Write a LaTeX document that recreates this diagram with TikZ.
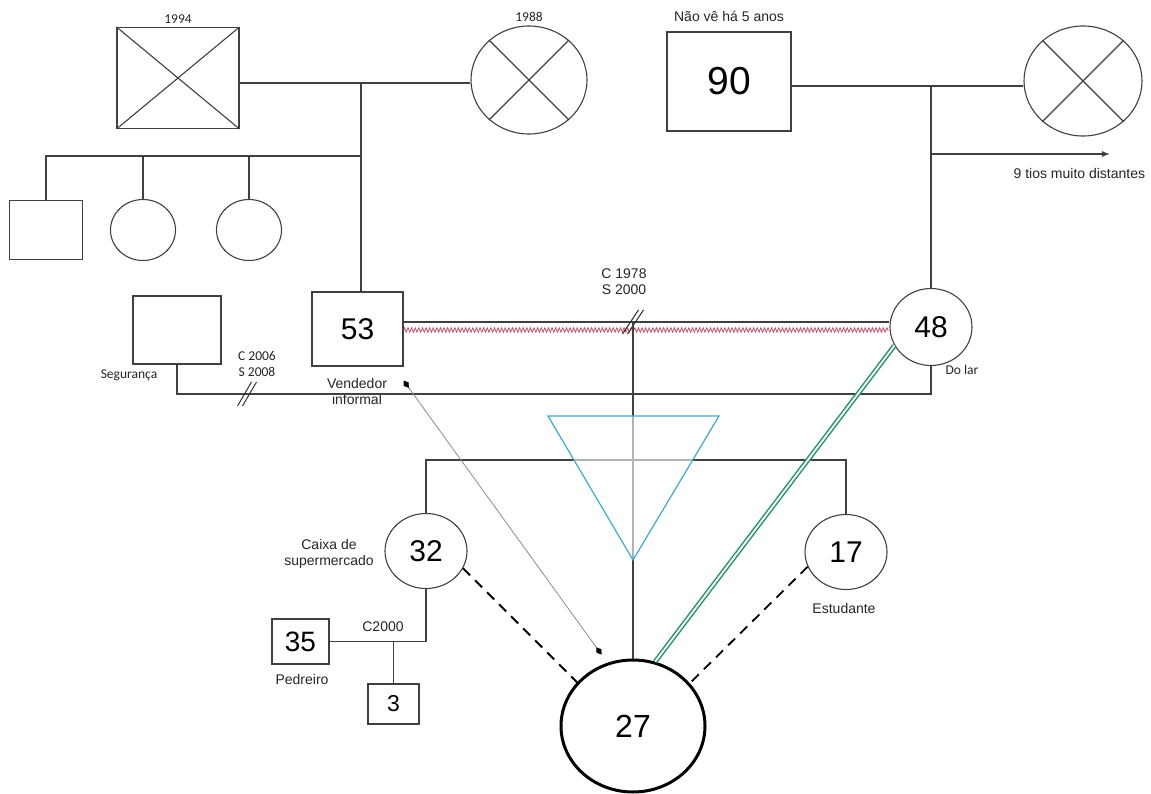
\documentclass[tikz,border=0pt]{standalone}
\usepackage{fontspec}
\setmainfont{Liberation Sans}
\newfontfamily\calib{Carlito}
\usetikzlibrary{arrows.meta,shapes.geometric,decorations.pathmorphing}
\definecolor{zig}{RGB}{200,80,105}
\definecolor{verde}{RGB}{35,150,100}
\definecolor{ciano}{RGB}{60,170,210}

\begin{document}
\begin{tikzpicture}[x=1pt, y=-1pt, line width=1.1pt, color=black!75,
  box/.style={draw, rectangle, inner sep=0pt},
  person/.style={draw, ellipse, inner sep=0pt, minimum width=82pt, minimum height=75pt},
  big/.style={font=\fontsize{30}{30}\selectfont, text=black},
  lbl/.style={font=\fontsize{14}{16}\selectfont, align=center, text=black!85},
  cal/.style={font=\calib\fontsize{13.5}{16}\selectfont, align=center, text=black!85},
  corte/.style={line width=1pt, black!80}]

\fill[white] (0,0) rectangle (1151,794);
\useasboundingbox (0,0) rectangle (1151,794);

\node[box, minimum width=122pt, minimum height=101pt, label={[cal]above:1994}] (avo1) at (178,78) {};
\node[person, minimum width=116pt, minimum height=108pt, label={[cal]above:1988}] (avo2) at (529,80) {};
\draw (avo1.north west) -- (avo1.south east) (avo1.north east) -- (avo1.south west);
\draw (avo2.45) -- (avo2.225) (avo2.135) -- (avo2.315);
\coordinate (c1) at (361,83);
\draw (avo1.east |- c1) -- (avo2.west |- c1);

\coordinate (c2) at (361,156);
\node[box, minimum width=73pt, minimum height=59pt] (tio1) at (46,230) {};
\node[person, minimum width=65pt, minimum height=61pt] (tia1) at (143,230) {};
\node[person, minimum width=65pt, minimum height=61pt] (tia2) at (249,230) {};
\draw (tio1.north) |- (c2) (tia1.north) |- (c2) (tia2.north) |- (c2);

\node[box, minimum width=91pt, minimum height=74pt, big] (pai) at (357.5,329) {53};
\draw (c1) -- (c1 |- pai.north);
\node[lbl] (vend) at (357,391) {Vendedor\\informal};

\node[box, minimum width=88pt, minimum height=68pt] (ex) at (177,330) {};
\node[cal] at (129,375) {Segurança};

\node[box, minimum width=124pt, minimum height=99pt, font=\fontsize{39}{39}\selectfont, text=black,
  label={[lbl, label distance=6pt]above:Não vê há 5 anos}] (avo3) at (729,81.5) {90};
\node[person, minimum width=118pt, minimum height=110pt] (avo4) at (1083,81) {};
\draw (avo4.45) -- (avo4.225) (avo4.135) -- (avo4.315);
\coordinate (c4) at (931,86);
\draw (avo3.east |- c4) -- (avo4.west |- c4);

\node[person, minimum width=82pt, minimum height=77pt, big] (mae) at (931,327) {48};
\node[cal] at (962,370) {Do lar};
\draw (c4) -- (mae.north);
\coordinate (c5) at (931,154);
\coordinate (tios) at (1110,154);
\draw[-{Latex[length=8pt,width=6pt]}] (c5) -- (tios);
\node[lbl, anchor=east] at (1149,173) {9 tios muito distantes};

\coordinate (c3) at (931,394);
\draw (ex.south) |- (c3) -- (mae.south);
\coordinate (s1) at (247,394);
\foreach \d in {-2.5,2.5}
  \draw[corte] ([xshift=\d pt]s1) ++(-7,12) -- ++(14,-24);
\node[cal] at (257,364) {C 2006\\S 2008};

\coordinate (c6) at (633,322);
\coordinate (c7) at (633,330);
\draw (pai.east |- c6) -- (mae.west |- c6);
\draw[zig, line width=0.8pt, decorate, decoration={zigzag, segment length=3.6pt, amplitude=2.2pt}]
  (pai.east |- c7) -- (mae.west |- c7);
\foreach \d in {-2.5,2.5}
  \draw[corte] ([xshift=\d pt]c6) ++(-8,12) -- ++(16,-24);
\node[lbl] at (624,282) {C 1978\\S 2000};

\node[person, big] (irma) at (426,551) {32};
\node[person, big] (irmao) at (846,552) {17};
\node[lbl] at (329,554) {Caixa de\\supermercado};
\node[lbl] at (844,608) {Estudante};

\node[person, minimum width=144pt, minimum height=132pt, line width=3pt, draw=black,
  font=\fontsize{32}{32}\selectfont, text=black] (ego) at (633,726) {27};

\coordinate (c8) at (633,460);
\draw (irma.north) |- (c8) -| (irmao.north);
\draw (c6) -- (ego.north);
\draw[ciano, line width=1.2pt, fill=white, fill opacity=0.6] (548,416) -- (719,416) -- (633,560) -- cycle;

\node[box, minimum width=57pt, minimum height=45pt, font=\fontsize{28}{28}\selectfont, text=black] (cunhado) at (300.5,641.5) {35};
\node[box, minimum width=51pt, minimum height=40pt, font=\fontsize{23}{23}\selectfont, text=black] (sobrinho) at (393.5,704) {3};
\coordinate (c9) at (393.5,641);
\draw (irma.south) |- (cunhado.east);
\draw (c9) -- (sobrinho.north);
\node[lbl] at (383,627) {C2000};
\node[lbl] at (302,679) {Pedreiro};

\draw[black, line width=1.8pt, dash pattern=on 10pt off 7pt] (irma.-25) -- (ego.142);
\draw[black, line width=1.8pt, dash pattern=on 10pt off 7pt] (irmao.201) -- (ego.37);
\draw[verde, line width=1.5pt, double=white, double distance=1.8pt] (mae.207) -- (ego.71);
\draw[black!45, line width=0.8pt, shorten >=10pt, {Diamond[black,length=9pt,width=6pt]}-{Diamond[black,length=9pt,width=6pt]}]
  ([yshift=-14pt]pai.south east) -- (ego.112);

\end{tikzpicture}
\end{document}
